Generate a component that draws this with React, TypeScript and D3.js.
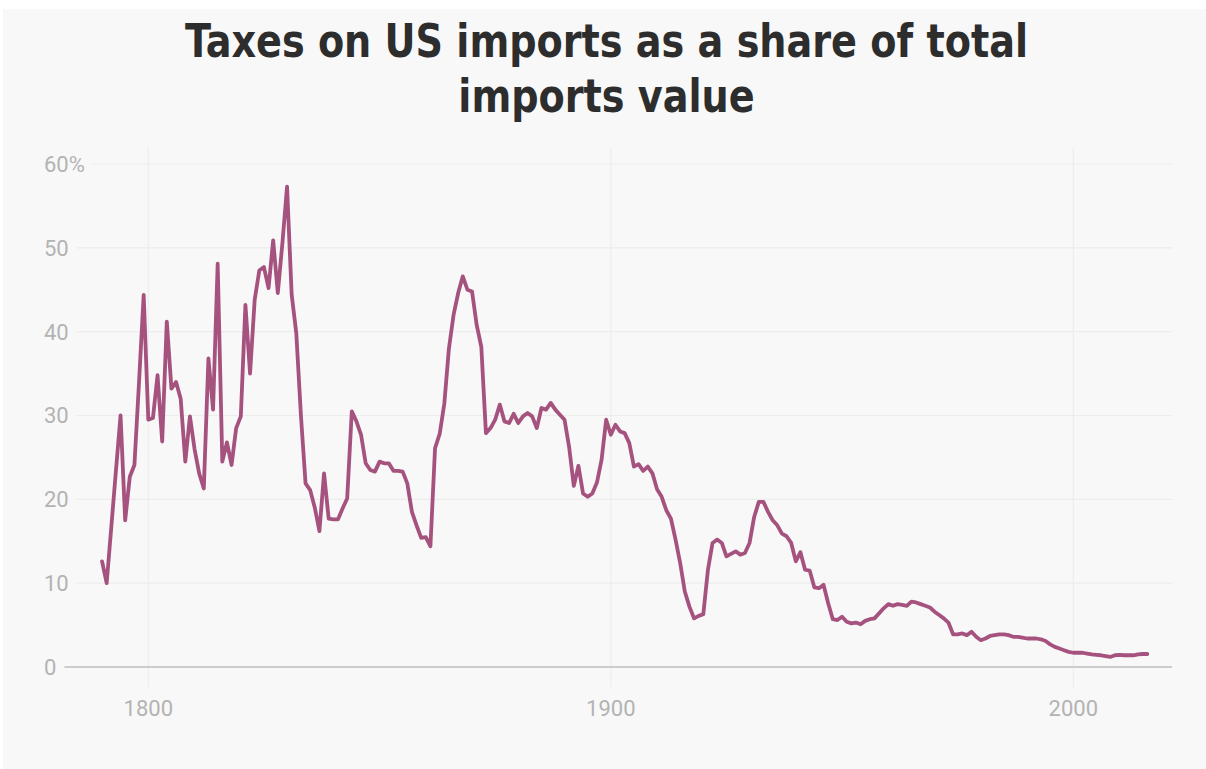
import React from "react";
import * as d3 from "d3";

const titleLines = ["Taxes on US imports as a share of total", "imports value"];
const firstYear = 1790;
// Duties as % of total imports value, one value per year from 1790
const shareValues: number[] = [
  // 1790s
  12.6, 10.0, 16.7, 23.4, 30.0, 17.5, 22.7, 24.1, 34.0, 44.4,
  // 1800s
  29.5, 29.7, 34.8, 26.9, 41.2, 33.2, 34.0, 32.0, 24.5, 29.9,
  // 1810s
  26.0, 23.1, 21.3, 36.8, 30.7, 48.1, 24.5, 26.8, 24.1, 28.5,
  // 1820s
  29.9, 43.2, 35.0, 43.8, 47.3, 47.7, 45.2, 50.9, 44.6, 50.6,
  // 1830s
  57.3, 44.4, 39.8, 30.0, 21.9, 21.1, 19.0, 16.2, 23.1, 17.7,
  // 1840s
  17.6, 17.6, 18.9, 20.1, 30.5, 29.3, 27.7, 24.3, 23.5, 23.3,
  // 1850s
  24.5, 24.3, 24.3, 23.4, 23.4, 23.3, 21.9, 18.5, 16.9, 15.4,
  // 1860s
  15.5, 14.4, 26.1, 27.8, 31.4, 38.0, 42.0, 44.6, 46.6, 45.0,
  // 1870s
  44.8, 40.8, 38.2, 27.9, 28.5, 29.5, 31.3, 29.3, 29.1, 30.2,
  // 1880s
  29.1, 29.9, 30.3, 29.9, 28.5, 30.9, 30.7, 31.5, 30.7, 30.1,
  // 1890s
  29.5, 26.2, 21.6, 24.0, 20.7, 20.3, 20.7, 22.0, 24.7, 29.5,
  // 1900s
  27.7, 28.9, 28.1, 27.9, 26.7, 23.9, 24.2, 23.4, 23.9, 23.1,
  // 1910s
  21.2, 20.3, 18.7, 17.7, 15.2, 12.4, 9.0, 7.2, 5.8, 6.1,
  // 1920s
  6.3, 11.6, 14.8, 15.2, 14.8, 13.2, 13.5, 13.8, 13.4, 13.6,
  // 1930s
  14.8, 17.9, 19.7, 19.7, 18.5, 17.5, 16.9, 15.9, 15.6, 14.8,
  // 1940s
  12.6, 13.7, 11.6, 11.5, 9.5, 9.4, 9.8, 7.6, 5.7, 5.6,
  // 1950s
  6.0, 5.4, 5.2, 5.3, 5.1, 5.5, 5.7, 5.8, 6.4, 7.0,
  // 1960s
  7.5, 7.3, 7.5, 7.4, 7.3, 7.8, 7.7, 7.5, 7.3, 7.1,
  // 1970s
  6.6, 6.2, 5.8, 5.3, 3.9, 3.9, 4.0, 3.8, 4.2, 3.6,
  // 1980s
  3.2, 3.4, 3.7, 3.8, 3.9, 3.9, 3.8, 3.6, 3.6, 3.5,
  // 1990s
  3.4, 3.4, 3.4, 3.3, 3.1, 2.7, 2.4, 2.2, 2.0, 1.8,
  // 2000s
  1.7, 1.7, 1.7, 1.6, 1.5, 1.45, 1.4, 1.3, 1.2, 1.4,
  // 2010s
  1.45, 1.4, 1.4, 1.4, 1.5, 1.55, 1.55,
];
const yTicks = [0, 10, 20, 30, 40, 50, 60];
const xTicks = [1800, 1900, 2000];

const W = 1206;
const H = 769;

const tickFont = "22px Roboto";

function measure(text: string, font: string): number {
  const c = document.createElement("canvas");
  const ctx = c.getContext("2d");
  if (!ctx) return text.length * 12;
  ctx.font = font;
  return ctx.measureText(text).width;
}

export default function App() {
  const x = d3.scaleLinear().domain([1800, 2000]).range([148.3, 1073.3]);
  const y = d3.scaleLinear().domain([0, 60]).range([667, 164]);

  const data = shareValues.map((v, i) => ({ year: firstYear + i, value: v }));
  const line = d3
    .line<{ year: number; value: number }>()
    .x((d) => x(d.year))
    .y((d) => y(d.value))
    .curve(d3.curveLinear);

  const labelX = 44;
  const gridRight = 1172;
  const titleCx = 606.5;

  return (
    <svg
      width={W}
      height={H}
      style={{ position: "absolute", left: 0, top: 0, display: "block" }}
    >
      <rect x={0} y={0} width={W} height={H} fill="#ffffff" />
      <rect x={3} y={9} width={W - 3} height={H - 9} fill="#f8f8f8" />

      <g transform={`translate(${titleCx},0) scale(0.903,1)`}>
        {titleLines.map((t, i) => (
          <text
            key={i}
            x={0}
            y={57 + i * 55}
            textAnchor="middle"
            fontFamily="'DejaVu Sans Condensed', 'DejaVu Sans', sans-serif"
            fontStretch="condensed"
            fontWeight={700}
            fontSize={47}
            fill="#2d2d2d"
          >
            {t}
          </text>
        ))}
      </g>

      {/* vertical gridlines */}
      {xTicks.map((t) => (
        <line
          key={"vx" + t}
          x1={x(t)}
          x2={x(t)}
          y1={147}
          y2={687}
          stroke="#ececec"
          strokeWidth={1}
        />
      ))}

      {/* horizontal gridlines + y labels */}
      {yTicks.map((t) => {
        const label = t === 60 ? "60%" : String(t);
        const w = measure(label, tickFont);
        const gx = labelX + w + 8;
        return (
          <g key={"y" + t}>
            <line
              x1={gx}
              x2={gridRight}
              y1={y(t)}
              y2={y(t)}
              stroke={t === 0 ? "#cccccc" : "#ececec"}
              strokeWidth={t === 0 ? 2 : 1.2}
            />
            <text
              x={labelX}
              y={y(t)}
              dy="0.36em"
              fontFamily="Roboto, sans-serif"
              fontSize={22}
              fill="#b3b3b3"
            >
              {label}
            </text>
          </g>
        );
      })}

      {/* x labels */}
      {xTicks.map((t) => (
        <text
          key={"xl" + t}
          x={x(t)}
          y={716}
          textAnchor="middle"
          fontFamily="Roboto, sans-serif"
          fontSize={22}
          fill="#b3b3b3"
        >
          {t}
        </text>
      ))}

      <path
        d={line(data) || ""}
        fill="none"
        stroke="#a5527f"
        strokeWidth={3.8}
        strokeLinejoin="round"
        strokeLinecap="round"
      />
    </svg>
  );
}
